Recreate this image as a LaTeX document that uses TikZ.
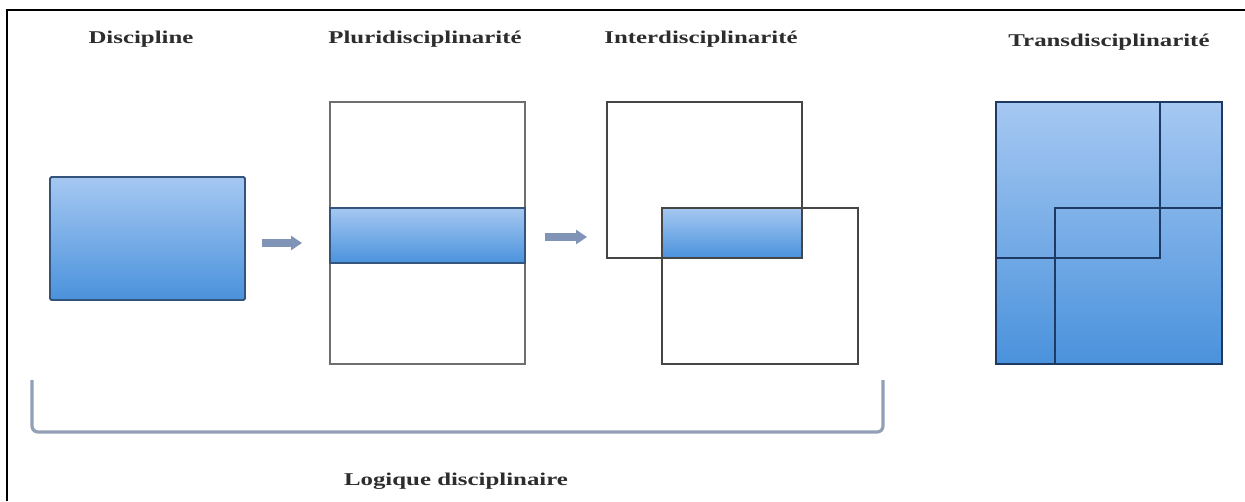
\documentclass[tikz,border=0pt]{standalone}
\usepackage{fontspec}
\setmainfont{Liberation Serif}
\usetikzlibrary{arrows.meta}
\definecolor{blueTop}{RGB}{166,200,242}
\definecolor{blueBot}{RGB}{74,146,220}
\definecolor{blueEdge}{RGB}{52,84,124}
\definecolor{navyEdge}{RGB}{30,58,98}
\definecolor{greyEdge}{RGB}{110,110,110}
\definecolor{darkEdge}{RGB}{70,70,70}
\definecolor{arrowCol}{RGB}{128,148,184}
\definecolor{bracketCol}{RGB}{146,160,182}
\definecolor{titleCol}{RGB}{45,45,45}
\begin{document}
\begin{tikzpicture}[x=1pt,y=-1pt,
  title/.style={font=\bfseries\fontsize{18}{20}\selectfont, text=titleCol, inner sep=0pt},
  boxnode/.style={rectangle, inner sep=0pt, outer sep=0pt, anchor=north west},
  bluefill/.style={top color=blueTop, bottom color=blueBot},
  whitebox/.style={boxnode, draw=darkEdge, line width=1.6pt},
  blockarrow/.style={draw=arrowCol, line width=8pt, -{Triangle[length=11pt,width=14pt]}},
  bracket/.style={draw=bracketCol, line width=3.2pt, rounded corners=6pt}
]
\useasboundingbox (0,0) rectangle (1245,501);
% frame (top and left)
\draw[line width=2pt] (7,501) -- (7,10) -- (1245,10);

% titles
\node[title] (tDisc) at (141,39) {\scalebox{1.38}[1]{Discipline}};
\node[title] (tPluri) at (425,39) {\scalebox{1.38}[1]{Pluridisciplinarité}};
\node[title] (tInter) at (701,39) {\scalebox{1.38}[1]{Interdisciplinarité}};
\node[title] (tTrans) at (1109,42) {\scalebox{1.38}[1]{Transdisciplinarité}};
\node[title] (tLog) at (456,481) {\scalebox{1.38}[1]{Logique disciplinaire}};

% Discipline
\node[boxnode, bluefill, draw=blueEdge, line width=1.8pt, rounded corners=1.5pt,
      minimum width=195pt, minimum height=123pt] (disc) at (50,177) {};

% Pluridisciplinarite
\node[boxnode, draw=greyEdge, line width=1.8pt, minimum width=195pt, minimum height=262pt] (pluri) at (330,102) {};
\node[boxnode, bluefill, draw=blueEdge, line width=1.8pt, minimum width=195pt, minimum height=55pt] (band) at (330,208) {};

% Interdisciplinarite
\node[boxnode, bluefill, minimum width=140pt, minimum height=50pt] (overlap) at (662,208) {};
\node[whitebox, minimum width=195pt, minimum height=156pt] (inter1) at (607,102) {};
\node[whitebox, minimum width=196pt, minimum height=156pt] (inter2) at (662,208) {};

% Transdisciplinarite
\node[boxnode, bluefill, draw=navyEdge, line width=1.6pt, minimum width=226pt, minimum height=262pt] (trans) at (996,102) {};
\coordinate (a1) at (1160,102);
\coordinate (a2) at (1160,258);
\coordinate (a3) at (996,258);
\coordinate (b1) at (1055,364);
\coordinate (b2) at (1055,208);
\coordinate (b3) at (1222,208);
\draw[navyEdge, line width=1.6pt] (a1) -- (a2) -- (a3);
\draw[navyEdge, line width=1.6pt] (b1) -- (b2) -- (b3);

% arrows
\coordinate (ar1s) at (262,243);
\coordinate (ar1e) at (302,243);
\coordinate (ar2s) at (545,237);
\coordinate (ar2e) at (587,237);
\draw[blockarrow] (ar1s) -- (ar1e);
\draw[blockarrow] (ar2s) -- (ar2e);

% bracket
\coordinate (br1) at (32,380);
\coordinate (br2) at (32,432);
\coordinate (br3) at (883,432);
\coordinate (br4) at (883,380);
\draw[bracket] (br1) -- (br2) -- (br3) -- (br4);
\end{tikzpicture}
\end{document}
